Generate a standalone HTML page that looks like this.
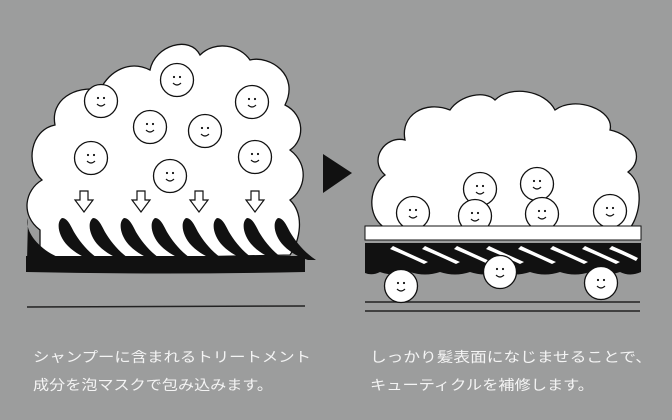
<!DOCTYPE html>
<html><head><meta charset="utf-8"><style>
html,body{margin:0;padding:0;background:#9c9d9d;}
svg{display:block}
text{font-family:"Liberation Sans","Noto Sans CJK JP",sans-serif;fill:#f4f4f4;font-size:14px}
</style></head><body>
<svg width="672" height="420" viewBox="0 0 672 420" xmlns="http://www.w3.org/2000/svg">
<defs>
<g id="face"><circle r="16.5" fill="#fff" stroke="#111" stroke-width="1.3"/><circle cx="-3" cy="-3" r="1.1" fill="#111"/><circle cx="3" cy="-3" r="1.1" fill="#111"/><path d="M-4 3 Q0 7 4 3" fill="none" stroke="#111" stroke-width="1.2"/></g>
<g id="arr"><path d="M-4 0 H4 V9 H9 L0 21 L-9 9 H-4 Z" fill="#fff" stroke="#111" stroke-width="1.2"/></g>
<path id="blade" d="M2 0 C-4 4 -2 18 8 28 C14 34 22 39 32 42 L40 42 C28 34 20 24 14 14 C10 6 7 0 2 0 Z" fill="#111"/>
</defs>
<!-- left cloud -->
<path d="M40 230 C20 215 25 190 42 180 C25 165 30 130 55 125 C50 100 75 85 100 90 C110 70 130 60 150 70 C155 45 190 35 200 55 C215 40 240 45 250 60 C270 55 300 75 285 105 C305 115 305 140 290 150 C310 165 305 190 290 200 C305 215 300 240 290 255 L40 260 Z" fill="#fff" stroke="#111" stroke-width="1.3"/>
<use href="#face" x="177" y="80"/><use href="#face" x="101" y="101"/><use href="#face" x="252" y="102"/>
<use href="#face" x="150" y="127"/><use href="#face" x="205" y="131"/><use href="#face" x="91" y="158"/>
<use href="#face" x="255" y="157"/><use href="#face" x="170" y="176"/>
<use href="#arr" x="84" y="191"/><use href="#arr" x="141" y="191"/><use href="#arr" x="199" y="191"/><use href="#arr" x="255" y="191"/>
<!-- hair left -->
<path d="M28 218 C24 232 40 250 60 258 L27 262 Z" fill="#111"/>
<use href="#blade" x="60" y="218"/><use href="#blade" x="91" y="218"/><use href="#blade" x="122" y="218"/><use href="#blade" x="153" y="218"/><use href="#blade" x="184" y="218"/><use href="#blade" x="215" y="218"/><use href="#blade" x="245" y="218"/><use href="#blade" x="276" y="218"/>
<path d="M26 256 L305 256 L305 272 Q165 275 26 272 Z" fill="#111"/>
<line x1="27" y1="307" x2="305" y2="306" stroke="#222" stroke-width="1.5"/>
<!-- triangle -->
<path d="M323 154 L352 173 L323 193 Z" fill="#111"/>
<!-- right cloud -->
<path d="M385 228 C365 215 370 185 385 175 C368 160 385 135 405 140 C400 115 425 100 450 110 C460 95 485 90 495 100 C510 85 545 90 555 110 C575 95 615 110 610 130 C635 135 645 160 628 172 C645 185 640 215 630 228 Z" fill="#fff" stroke="#111" stroke-width="1.3"/>
<use href="#face" x="413" y="213"/><use href="#face" x="480" y="189"/><use href="#face" x="475" y="216"/><use href="#face" x="537" y="184"/><use href="#face" x="542" y="214"/><use href="#face" x="610" y="211"/>
<rect x="365" y="226" width="276" height="14" fill="#fff" stroke="#111" stroke-width="1"/>
<path d="M365 243 L641 243 L641 272 Q630 277 620 272 Q605 277 590 272 Q575 277 560 272 Q545 277 530 272 Q515 277 500 272 Q485 277 470 272 Q455 277 440 272 Q425 277 410 272 Q395 277 380 272 Q372 276 365 273 Z" fill="#111"/>
<g fill="#fff">
<path d="M393 246 Q410 254 428 262 L424 264 Q407 256 390 249 Z"/>
<path d="M425 246 Q442 254 460 262 L456 264 Q439 256 422 249 Z"/>
<path d="M457 246 Q474 254 492 262 L488 264 Q471 256 454 249 Z"/>
<path d="M489 246 Q506 254 524 262 L520 264 Q503 256 486 249 Z"/>
<path d="M521 246 Q538 254 556 262 L552 264 Q535 256 518 249 Z"/>
<path d="M553 246 Q570 254 588 262 L584 264 Q567 256 550 249 Z"/>
<path d="M585 246 Q602 254 620 262 L616 264 Q599 256 582 249 Z"/>
<path d="M612 246 Q626 252 638 258 L636 261 Q622 254 609 249 Z"/>
</g>
<line x1="365" y1="302" x2="640" y2="302" stroke="#222" stroke-width="1.5"/>
<line x1="365" y1="311" x2="640" y2="311" stroke="#222" stroke-width="1.5"/>
<use href="#face" x="401" y="286"/><use href="#face" x="500" y="272"/><use href="#face" x="601" y="283"/>
<!-- text -->
<text x="33" y="362" textLength="278" lengthAdjust="spacingAndGlyphs">シャンプーに含まれるトリートメント</text>
<text x="33" y="390" textLength="240" lengthAdjust="spacingAndGlyphs">成分を泡マスクで包み込みます。</text>
<text x="370" y="362" textLength="282" lengthAdjust="spacingAndGlyphs">しっかり髪表面になじませることで、</text>
<text x="370" y="390" textLength="224" lengthAdjust="spacingAndGlyphs">キューティクルを補修します。</text>
</svg>
</body></html>
